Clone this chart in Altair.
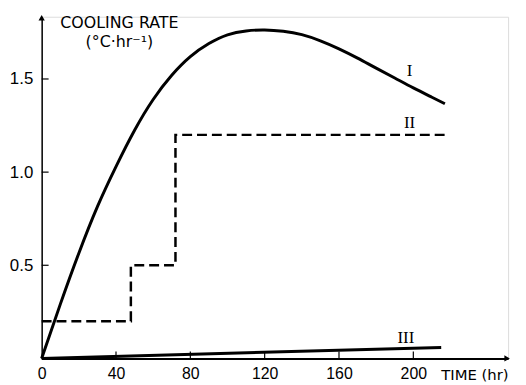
import altair as alt
import pandas as pd

# Curve I (solid)
t1 = [0, 10, 20, 30, 40, 50, 60, 70, 80, 90, 100, 110, 120, 130, 140, 150, 160, 170, 180, 190, 200, 210, 217]
v1 = [0, 0.29, 0.565, 0.815, 1.03, 1.225, 1.39, 1.52, 1.62, 1.69, 1.737, 1.758, 1.763, 1.756, 1.738,
      1.705, 1.662, 1.612, 1.558, 1.505, 1.452, 1.402, 1.367]
# Curve II (dashed, stepped)
t2 = [0, 48, 72, 217]
v2 = [0.2, 0.5, 1.2, 1.2]
# Curve III (solid, nearly flat)
t3 = [0, 215]
v3 = [0.0, 0.059]

labels = ["I", "II", "III"]
label_t = [198, 198, 196]
label_v = [1.54, 1.264, 0.109]

x_ticks = [0, 40, 80, 120, 160, 200]
y_ticks = [0.5, 1.0, 1.5]
XMAX = 251
YMAX = 1.834

W, H = 471, 345

xs = alt.Scale(domain=[0, XMAX], nice=False, zero=True)
ys = alt.Scale(domain=[0, YMAX], nice=False, zero=True)

d1 = pd.DataFrame({"t": t1, "v": v1})
d2 = pd.DataFrame({"t": t2, "v": v2})
d3 = pd.DataFrame({"t": t3, "v": v3})
dl = pd.DataFrame({"t": label_t, "v": label_v, "lab": labels})

xaxis = alt.Axis(
    values=x_ticks, ticks=False, grid=False, domainColor="black", domainWidth=2,
    labelFont="Liberation Sans", labelFontSize=16, labelColor="black", labelPadding=7,
    labelFlush=False,
    title="TIME (hr)", titleFont="DejaVu Sans", titleFontSize=15, titleFontWeight="normal",
    titleColor="black", titleX=437, titleY=16, titleAlign="center", titleBaseline="middle",
    titleAngle=0,
)
yaxis = alt.Axis(
    values=y_ticks, format=".1f", ticks=False, grid=False, domainColor="black", domainWidth=1.5,
    labelFont="Liberation Sans", labelFontSize=17, labelColor="black", labelPadding=9,
    title=["COOLING RATE", "(°C·hr⁻¹)"], titleFont="DejaVu Sans", titleFontSize=16,
    titleFontWeight="normal", titleColor="black", titleAngle=0, titleX=78, titleY=-2,
    titleAlign="center", titleBaseline="top", titleLineHeight=19,
)

base_x = alt.X("t:Q", scale=xs, axis=xaxis)
base_y = alt.Y("v:Q", scale=ys, axis=yaxis)

c1 = alt.Chart(d1).mark_line(color="black", strokeWidth=3, interpolate="natural").encode(x=base_x, y=base_y)
c2 = alt.Chart(d2).mark_line(color="black", strokeWidth=2.5, strokeDash=[10, 5], interpolate="step-after").encode(
    x=alt.X("t:Q", scale=xs), y=alt.Y("v:Q", scale=ys))
c3 = alt.Chart(d3).mark_line(color="black", strokeWidth=3).encode(
    x=alt.X("t:Q", scale=xs), y=alt.Y("v:Q", scale=ys))

txt = alt.Chart(dl).mark_text(font="Liberation Serif", fontSize=17, color="black").encode(
    x=alt.X("t:Q", scale=xs), y=alt.Y("v:Q", scale=ys), text="lab:N")

# inward tick marks
ytk = alt.Chart(pd.DataFrame({"v": y_ticks})).mark_rule(color="black", strokeWidth=1.2).encode(
    y=alt.Y("v:Q", scale=ys), x=alt.value(0), x2=alt.value(7))
xtk = alt.Chart(pd.DataFrame({"t": x_ticks[1:]})).mark_rule(color="black", strokeWidth=1.2).encode(
    x=alt.X("t:Q", scale=xs), y=alt.value(H), y2=alt.value(H - 7))

# arrowheads
arr_up = alt.Chart(pd.DataFrame({"t": [0], "v": [YMAX]})).mark_point(
    shape="triangle-up", filled=True, color="black", size=40, opacity=1, yOffset=1).encode(
    x=alt.X("t:Q", scale=xs), y=alt.Y("v:Q", scale=ys))
arr_rt = alt.Chart(pd.DataFrame({"t": [XMAX], "v": [0]})).mark_point(
    shape="triangle-right", filled=True, color="black", size=40, opacity=1, xOffset=-1).encode(
    x=alt.X("t:Q", scale=xs), y=alt.Y("v:Q", scale=ys))

chart = alt.layer(c1, c2, c3, txt, ytk, xtk, arr_up, arr_rt).properties(
    width=W, height=H,
    autosize=alt.AutoSizeParams(type="none"),
    padding={"left": 34, "top": 7, "right": 10, "bottom": 25},
).configure_view(stroke=None).configure(background="white")

chart.save("out.html", embed_options={"renderer": "svg", "actions": False})
